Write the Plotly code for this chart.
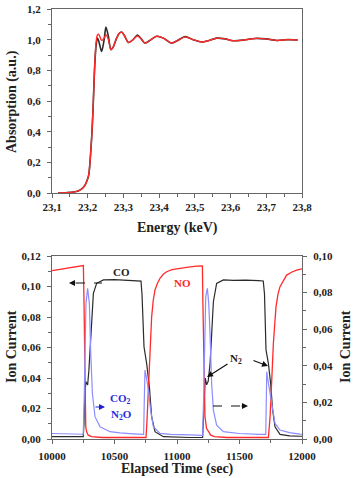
import plotly.graph_objects as go

# ---------------- Top panel: XANES spectrum ----------------
energy = [23.117, 23.14, 23.16, 23.175, 23.185, 23.192, 23.198, 23.203, 23.207, 23.211,
          23.215, 23.219, 23.223, 23.227, 23.231, 23.239, 23.246, 23.251, 23.258, 23.265,
          23.272, 23.280, 23.288, 23.295, 23.302, 23.314, 23.327, 23.339, 23.350, 23.360,
          23.376, 23.393, 23.412, 23.435, 23.452, 23.473, 23.495, 23.519, 23.540, 23.561,
          23.585, 23.607, 23.638, 23.669, 23.700, 23.730, 23.760, 23.788]
abs_red = [0.0, 0.002, 0.006, 0.015, 0.03, 0.05, 0.08, 0.12, 0.22, 0.36,
           0.55, 0.80, 0.97, 1.03, 1.035, 0.995, 1.01, 1.033, 1.00, 0.935,
           0.955, 1.005, 1.04, 1.05, 1.03, 0.982, 1.0, 1.024, 1.005, 0.978,
           0.998, 1.022, 1.01, 0.978, 0.995, 1.018, 1.0, 0.985, 0.995, 1.01,
           1.005, 0.993, 0.998, 1.008, 1.005, 0.995, 1.0, 0.998]
abs_black = [0.0, 0.002, 0.006, 0.015, 0.03, 0.05, 0.08, 0.12, 0.22, 0.36,
             0.55, 0.80, 0.95, 1.01, 0.99, 0.923, 1.0, 1.083, 1.02, 0.935,
             0.955, 1.005, 1.04, 1.05, 1.03, 0.982, 1.0, 1.03, 1.005, 0.978,
             0.998, 1.022, 1.01, 0.978, 0.995, 1.02, 1.0, 0.985, 0.995, 1.01,
             1.005, 0.993, 0.998, 1.008, 1.005, 0.995, 1.0, 0.998]
e_tickvals = [23.1, 23.2, 23.3, 23.4, 23.5, 23.6, 23.7, 23.8]
e_ticktext = ["23,1", "23,2", "23,3", "23,4", "23,5", "23,6", "23,7", "23,8"]
a_tickvals = [0.0, 0.2, 0.4, 0.6, 0.8, 1.0, 1.2]
a_ticktext = ["0,0", "0,2", "0,4", "0,6", "0,8", "1,0", "1,2"]

# ---------------- Bottom panel: ion currents ----------------
t_co = [10000, 10250, 10256, 10262, 10272, 10285, 10295, 10304, 10317, 10331,
        10357, 10411, 10500, 10600, 10700, 10712, 10720, 10728, 10736, 10757,
        10779, 10797, 10824, 10891, 11000, 11100, 11205, 11211, 11218, 11226,
        11237, 11250, 11265, 11277, 11291, 11317, 11371, 11450, 11550, 11650,
        11690, 11700, 11706, 11712, 11731, 11749, 11765, 11784, 11824, 11900,
        11984, 12000]
co = [0.0015, 0.0015, 0.01, 0.03, 0.0376, 0.0354, 0.045, 0.0584, 0.0802, 0.0955,
      0.1021, 0.1043, 0.1045, 0.1042, 0.104, 0.1035, 0.095, 0.075, 0.0605, 0.0496,
      0.0343, 0.0146, 0.0048, 0.0015, 0.001, 0.001, 0.001, 0.012, 0.035, 0.040,
      0.0355, 0.038, 0.05, 0.07, 0.09, 0.102, 0.1043, 0.104, 0.1042, 0.1038,
      0.1036, 0.095, 0.075, 0.0584, 0.0496, 0.0365, 0.019, 0.008, 0.003, 0.002,
      0.0018, 0.0018]

t_no = [10000, 10100, 10200, 10251, 10256, 10260, 10264, 10270, 10277, 10290,
        10317, 10400, 10600, 10752, 10760, 10771, 10784, 10797, 10810, 10824,
        10843, 10864, 10890, 10917, 10960, 11024, 11090, 11157, 11203, 11207,
        11213, 11224, 11236, 11251, 11270, 11300, 11400, 11600, 11731, 11745,
        11757, 11771, 11792, 11808, 11824, 11850, 11877, 11920, 11957, 12000]
no = [0.1104, 0.1117, 0.113, 0.1137, 0.09, 0.05, 0.0146, 0.008, 0.0048, 0.0025,
      0.0015, 0.001, 0.001, 0.001, 0.012, 0.032, 0.058, 0.080, 0.091, 0.0977,
      0.102, 0.1054, 0.108, 0.1097, 0.111, 0.112, 0.1127, 0.1134, 0.1135, 0.09,
      0.05, 0.0146, 0.007, 0.0048, 0.0025, 0.0015, 0.001, 0.001, 0.001, 0.015,
      0.037, 0.0627, 0.0868, 0.095, 0.0999, 0.104, 0.1075, 0.1095, 0.1108, 0.1115]

t_co2 = [10000, 10150, 10250, 10257, 10264, 10272, 10285, 10299, 10309, 10323,
         10344, 10384, 10464, 10544, 10650, 10733, 10738, 10744, 10757, 10771,
         10789, 10811, 10864, 10950, 11100, 11205, 11212, 11220, 11230, 11243,
         11254, 11264, 11277, 11291, 11317, 11371, 11500, 11664, 11710, 11714,
         11718, 11730, 11744, 11765, 11784, 11824, 11900, 11984, 12000]
co2 = [0.003, 0.0028, 0.0026, 0.02, 0.0486, 0.0741, 0.0823, 0.074, 0.0486, 0.025,
       0.0122, 0.0067, 0.004, 0.0033, 0.0028, 0.0025, 0.02, 0.0377, 0.033, 0.0268,
       0.0158, 0.0067, 0.0031, 0.0025, 0.0022, 0.002, 0.02, 0.055, 0.078, 0.0823,
       0.074, 0.0578, 0.0304, 0.0158, 0.0076, 0.004, 0.003, 0.0025, 0.0025, 0.02,
       0.0368, 0.031, 0.025, 0.0146, 0.0085, 0.0049, 0.0035, 0.0027, 0.0026]

t_tickvals = [10000, 10500, 11000, 11500, 12000]
t_ticktext = ["10000", "10500", "11000", "11500", "12000"]
l_tickvals = [0.0, 0.02, 0.04, 0.06, 0.08, 0.10, 0.12]
l_ticktext = ["0,00", "0,02", "0,04", "0,06", "0,08", "0,10", "0,12"]
r_tickvals = [0.0, 0.02, 0.04, 0.06, 0.08, 0.10]
r_ticktext = ["0,00", "0,02", "0,04", "0,06", "0,08", "0,10"]

W, H = 355, 478
def px(x):
    return x / W
def py(y):
    return 1 - y / H

SERIF = "Liberation Serif"
tickfont = dict(family=SERIF, size=11, color="#222", weight="bold")
titlefont = dict(family=SERIF, size=14, color="#222", weight="bold")
AX = "#666"
BLACK = "#2b2b2b"
RED = "#ff2a2a"
BLUE = "#8c8cff"

fig = go.Figure()
fig.add_trace(go.Scatter(x=energy, y=abs_black, mode="lines", xaxis="x", yaxis="y",
                         line=dict(color=BLACK, width=1.6, shape="spline", smoothing=0.8),
                         showlegend=False))
fig.add_trace(go.Scatter(x=energy, y=abs_red, mode="lines", xaxis="x", yaxis="y",
                         line=dict(color=RED, width=1.4, shape="spline", smoothing=0.8),
                         showlegend=False))
fig.add_trace(go.Scatter(x=t_co, y=co, mode="lines", xaxis="x2", yaxis="y2",
                         line=dict(color=BLACK, width=1.2), showlegend=False))
fig.add_trace(go.Scatter(x=t_no, y=no, mode="lines", xaxis="x2", yaxis="y2",
                         line=dict(color=RED, width=1.3), showlegend=False))
fig.add_trace(go.Scatter(x=t_co2, y=co2, mode="lines", xaxis="x2", yaxis="y3",
                         line=dict(color=BLUE, width=1.2), showlegend=False))

common = dict(showline=True, linecolor=AX, linewidth=1.3, ticks="outside", ticklen=4,
              tickwidth=1.2, tickcolor=AX, showgrid=False, zeroline=False, tickfont=tickfont,
              automargin=False)

fig.update_layout(
    width=W, height=H, margin=dict(l=0, r=0, t=0, b=0, pad=0, autoexpand=False),
    paper_bgcolor="white", plot_bgcolor="white",
    xaxis=dict(domain=[px(52), px(302)], range=[23.1, 23.8], anchor="y", mirror=True,
               tickvals=e_tickvals, ticktext=e_ticktext,
               minor=dict(dtick=0.05, ticklen=2.5, tickcolor=AX, ticks="outside"), **common),
    yaxis=dict(domain=[py(193), py(9)], range=[0, 1.2], anchor="x", mirror=True,
               tickvals=a_tickvals, ticktext=a_ticktext, ticklabelstandoff=4,
               minor=dict(dtick=0.1, ticklen=2.5, tickcolor=AX, ticks="outside"), **common),
    xaxis2=dict(domain=[px(52), px(302)], range=[10000, 12000], anchor="y2", mirror=True,
                tickvals=t_tickvals, ticktext=t_ticktext, ticklabelstandoff=3,
                minor=dict(dtick=250, ticklen=2.5, tickcolor=AX, ticks="outside"), **common),
    yaxis2=dict(domain=[py(439), py(256)], range=[0, 0.12], anchor="x2",
                tickvals=l_tickvals, ticktext=l_ticktext, ticklabelstandoff=4,
                minor=dict(dtick=0.01, ticklen=2.5, tickcolor=AX, ticks="outside"), **common),
    yaxis3=dict(range=[0, 0.10], anchor="x2", overlaying="y2", side="right",
                tickvals=r_tickvals, ticktext=r_ticktext, ticklabelstandoff=4,
                minor=dict(dtick=0.01, ticklen=2.5, tickcolor=AX, ticks="outside"), **common),
)

ann = []
# axis titles
for (tx, ty, txt, ang) in [(177, 228, "Energy (keV)", 0), (12, 102, "Absorption (a.u.)", -90),
                           (177, 469, "Elapsed Time (sec)", 0), (11, 347, "Ion Current", -90),
                           (345, 347, "Ion Current", -90)]:
    ann.append(dict(x=px(tx), y=py(ty), xref="paper", yref="paper", text=txt, textangle=ang,
                    showarrow=False, font=titlefont, xanchor="center", yanchor="middle"))

afont = dict(family=SERIF, size=11, weight="bold")
ann.append(dict(x=px(121), y=py(272), xref="paper", yref="paper", text="CO",
                showarrow=False, font=dict(color="#222", **afont)))
ann.append(dict(x=px(182), y=py(283), xref="paper", yref="paper", text="NO",
                showarrow=False, font=dict(color=RED, **afont)))
ann.append(dict(x=px(120), y=py(408), xref="paper", yref="paper", text="CO<sub>2</sub>",
                showarrow=False, font=dict(color="#2b2bdd", **afont), yanchor="bottom"))
ann.append(dict(x=px(121), y=py(424), xref="paper", yref="paper", text="N<sub>2</sub>O",
                showarrow=False, font=dict(color="#2b2bdd", **afont), yanchor="bottom"))
ann.append(dict(x=px(236), y=py(368), xref="paper", yref="paper", text="N<sub>2</sub>",
                showarrow=False, font=dict(color="#222", **afont), yanchor="bottom"))
# arrowheads
for (hx, hy, ax_, ay_, col) in [(69, 283, 8, 0, "#111"), (248, 406, -8, 0, "#111"),
                                (105, 407, -11, 0, "#1f1fd0"),
                                (207, 377, 22, -14, "#111"), (268, 366, -16, -6, "#111")]:
    ann.append(dict(x=px(hx), y=py(hy), xref="paper", yref="paper", text="",
                    showarrow=True, ax=ax_, ay=ay_, arrowhead=2, arrowsize=1,
                    arrowwidth=1.2, arrowcolor=col))
fig.update_layout(annotations=ann)

shapes = [
    dict(type="line", xref="paper", yref="paper", x0=px(76), x1=px(102), y0=py(283), y1=py(283),
         line=dict(color="#111", width=1.2, dash="dash")),
    dict(type="line", xref="paper", yref="paper", x0=px(213), x1=px(241), y0=py(406), y1=py(406),
         line=dict(color="#111", width=1.2, dash="dash")),
]
fig.update_layout(shapes=shapes)

fig.write_html("out.html")
